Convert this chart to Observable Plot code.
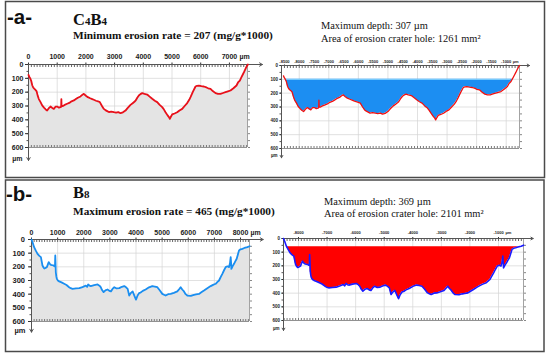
<!DOCTYPE html>
<html><head><meta charset="utf-8">
<script src="https://cdn.jsdelivr.net/npm/d3@7"></script>
<script src="https://cdn.jsdelivr.net/npm/@observablehq/plot@0.6"></script>
<style>
body{margin:0;background:#fff;}
#root{position:relative;width:550px;height:357px;overflow:hidden;}
</style></head><body><div id="root"></div>
<script>
// ---- Data ----
// Panel a (C4B4) profile: distance (µm) and depth (µm)
const topX = [0,25,46,70,94,130,163,200,250,279,320,360,420,476,540,600,650,700,767,820,883,940,999,1060,1138,1145,1152,1200,1260,1347,1420,1500,1580,1650,1720,1812,1870,1928,2000,2067,2150,2220,2276,2350,2420,2485,2560,2625,2680,2741,2800,2880,2973,3050,3130,3206,3290,3380,3450,3554,3640,3700,3728,3790,3844,3900,3961,4040,4135,4220,4310,4400,4484,4570,4658,4720,4774,4840,4900,4924,4960,5006,5090,5180,5260,5355,5440,5529,5600,5645,5730,5819,5870,5935,6020,6109,6200,6260,6341,6420,6516,6600,6690,6780,6864,6950,7038,7140,7247,7300,7364,7420,7480,7520,7561,7600,7643];
// same profile in the coordinates of the right-hand plot
const topXRight = [-8532,-8506,-8484,-8459,-8434,-8396,-8362,-8323,-8271,-8240,-8198,-8156,-8093,-8035,-7968,-7905,-7853,-7800,-7730,-7675,-7609,-7550,-7488,-7424,-7343,-7335,-7328,-7278,-7215,-7124,-7048,-6964,-6881,-6808,-6735,-6638,-6578,-6517,-6442,-6372,-6285,-6212,-6154,-6076,-6003,-5935,-5857,-5789,-5731,-5668,-5606,-5522,-5425,-5345,-5261,-5182,-5094,-5000,-4927,-4818,-4728,-4666,-4636,-4571,-4515,-4457,-4393,-4310,-4211,-4122,-4028,-3934,-3846,-3756,-3664,-3600,-3543,-3474,-3411,-3386,-3349,-3301,-3213,-3119,-3035,-2936,-2847,-2754,-2680,-2633,-2544,-2451,-2398,-2330,-2241,-2148,-2053,-1990,-1906,-1823,-1723,-1635,-1541,-1447,-1359,-1269,-1177,-1071,-959,-904,-837,-778,-715,-674,-631,-590,-545];
const topDepth = [75,88,95,105,118,150,166,175,185,192,225,250,272,296,312,325,333,318,304,312,321,305,304,312,306,250,300,300,292,284,278,266,260,250,240,231,220,212,226,236,244,250,255,262,266,272,300,321,330,337,344,340,345,348,344,352,346,333,315,292,278,268,262,240,224,214,207,212,217,232,248,262,272,292,308,326,345,366,382,393,378,361,354,345,332,321,300,279,255,236,196,159,154,152,157,159,166,172,176,192,207,212,212,206,200,194,188,172,152,130,116,92,67,50,31,14,0];

// Panel b (B8) profile
const botX = [0,40,100,160,230,300,360,390,420,460,490,540,590,630,660,700,740,790,840,880,900,905,910,918,930,950,970,1010,1060,1150,1250,1340,1440,1500,1570,1700,1830,1950,2080,2130,2170,2220,2270,2400,2530,2600,2650,2700,2760,2830,2910,2980,3040,3100,3170,3260,3360,3460,3550,3620,3680,3740,3800,3870,3940,4000,4060,4130,4176,4260,4368,4500,4625,4720,4816,4900,5007,5070,5134,5230,5326,5450,5581,5650,5709,5770,5836,5900,5964,6100,6219,6300,6411,6500,6603,6730,6858,6950,7050,7120,7178,7240,7305,7370,7433,7500,7560,7600,7624,7640,7650,7700,7752,7800,7854,7900,7943,8000,8071,8150,8263,8344];
const botXRight = [-8525,-8485,-8424,-8364,-8293,-8223,-8163,-8132,-8102,-8062,-8032,-7981,-7931,-7891,-7861,-7820,-7780,-7730,-7679,-7639,-7619,-7614,-7609,-7601,-7589,-7569,-7548,-7508,-7458,-7367,-7267,-7176,-7075,-7015,-6944,-6814,-6683,-6562,-6431,-6381,-6340,-6290,-6240,-6109,-5978,-5908,-5857,-5807,-5747,-5676,-5595,-5525,-5465,-5404,-5334,-5243,-5142,-5042,-4951,-4881,-4820,-4760,-4700,-4629,-4559,-4498,-4438,-4367,-4321,-4236,-4128,-3995,-3869,-3773,-3677,-3592,-3484,-3421,-3357,-3260,-3163,-3038,-2907,-2837,-2778,-2716,-2650,-2585,-2521,-2384,-2264,-2183,-2071,-1981,-1878,-1750,-1621,-1528,-1428,-1357,-1299,-1236,-1171,-1106,-1042,-975,-914,-874,-850,-834,-824,-773,-721,-673,-618,-572,-529,-471,-400,-320,-207,-125];
const botDepth = [0,20,56,80,105,120,129,160,190,205,212,208,202,180,166,178,185,188,190,196,195,150,117,160,239,270,288,300,307,314,324,333,349,356,361,358,356,348,337,346,329,338,341,334,329,338,349,370,385,372,366,376,380,362,349,358,356,346,341,350,361,410,392,380,412,440,410,390,388,376,366,350,341,344,349,370,398,404,410,400,398,390,380,364,349,366,380,400,410,412,405,402,398,386,373,356,341,332,324,310,300,275,251,225,202,196,202,170,129,170,215,195,178,160,141,110,80,72,68,62,56,49];

// Axis tick labels
const depthTicks = [0,100,200,300,400,500,600];
const tlTicks = [0,1000,2000,3000,4000,5000,6000,7000];
const trTicks = [-8500,-8000,-7500,-7000,-6500,-6000,-5500,-5000,-4500,-4000,-3500,-3000,-2500,-2000,-1500,-1000];
const trGrid = [-8000,-7000,-6000,-5000,-4000,-3000,-2000,-1000];
const blTicks = [0,1000,2000,3000,4000,5000,6000,7000,8000];
const brTicks = [-8000,-7000,-6000,-5000,-4000,-3000,-2000,-1000];

// Reference levels (crater rim) of the right-hand plots
const topRim = 100, botRim = 60;

// Texts
const texts = {
  a: "-a-", b: "-b-",
  aRate: "Minimum erosion rate = 207 (mg/g*1000)",
  bRate: "Maximum erosion rate = 465 (mg/g*1000)",
  aDepth: "Maximum depth: 307 \u00b5m", aArea: "Area of erosion crater hole: 1261 mm\u00b2",
  bDepth: "Maximum depth: 369 \u00b5m", bArea: "Area of erosion crater hole: 2101 mm\u00b2"
};

const root = document.getElementById("root");

// frame boxes + titles
const ov = d3.create("svg").attr("width",550).attr("height",357)
  .style("position","absolute").style("left","0px").style("top","0px");
ov.append("rect").attr("x",5.5).attr("y",1.5).attr("width",539).attr("height",176)
  .attr("fill","none").attr("stroke","#4a4a4a").attr("stroke-width",1.5);
ov.append("rect").attr("x",5.5).attr("y",180).attr("width",538.5).attr("height",171.5)
  .attr("fill","none").attr("stroke","#4a4a4a").attr("stroke-width",1.5);
function txt(x,y,s,size,weight,family){
  return ov.append("text").attr("x",x).attr("y",y).attr("font-size",size)
    .attr("font-weight",weight).attr("font-family",family).attr("fill","#111").text(s);
}
const SERIF = "'Liberation Serif','Times New Roman',serif";
const SANS = "'Liberation Sans',Arial,sans-serif";
txt(7,24,texts.a,20.5,"bold",SANS);
txt(6,201,texts.b,20.5,"bold",SANS);
// C4B4 and B8 with subscripts
const t1 = ov.append("text").attr("x",73).attr("y",25).attr("font-family",SERIF).attr("font-weight","bold").attr("font-size",16.5).attr("fill","#111");
t1.append("tspan").text("C"); t1.append("tspan").attr("font-size",11).text("4");
t1.append("tspan").text("B"); t1.append("tspan").attr("font-size",11).text("4");
const t2 = ov.append("text").attr("x",73).attr("y",198).attr("font-family",SERIF).attr("font-weight","bold").attr("font-size",16.5).attr("fill","#111");
t2.append("tspan").text("B"); t2.append("tspan").attr("font-size",11).text("8");
txt(73,39,texts.aRate,11.3,"bold",SERIF);
txt(73,214.5,texts.bRate,11.3,"bold",SERIF);
txt(321,29,texts.aDepth,10.4,"normal",SERIF);
txt(321,42.3,texts.aArea,10.4,"normal",SERIF);
txt(324,204.5,texts.bDepth,10.4,"normal",SERIF);
txt(324,216.5,texts.bArea,10.4,"normal",SERIF);
root.appendChild(ov.node());

const plain = d => String(d);

function panel(c){
  const rows = c.x.map((x,i)=>({x, d:c.depth[i]}));
  const [x0,x1] = c.domain;
  const lastTick = c.ticks[c.ticks.length-1];
  const marks = [
    Plot.gridX(c.grid, {stroke:"#d4d4d4", strokeOpacity:1, strokeWidth:0.7}),
    Plot.gridY(depthTicks, {stroke:"#d4d4d4", strokeOpacity:1, strokeWidth:0.7}),
  ];
  if (c.kind === "profile") {
    marks.push(Plot.areaY(rows, {x:"x", y1:"d", y2:600, fill:"#e4e4e4"}));
  } else {
    marks.push(Plot.areaY(rows, {x:"x", y1:c.rim, y2:d=>Math.max(d.d,c.rim), fill:c.fill}));
    if (c.rimStroke) {
      const wet = rows.filter(r=>r.d>=c.rim);
      marks.push(Plot.ruleY([c.rim], {x1:wet[0].x, x2:wet[wet.length-1].x, stroke:c.rimStroke, strokeWidth:1}));
    }
  }
  marks.push(
    Plot.ruleX([x1], {stroke:"#8c8c8c", strokeWidth:0.8}),
    Plot.ruleY([600], {stroke:"#7c7c7c", strokeWidth:0.8}),
    Plot.axisX({anchor:"top", ticks:c.minor, tickSize:-2, tickFormat:()=>"", stroke:"#666", label:null}),
    Plot.axisX({anchor:"bottom", ticks:c.minor, tickSize:-2, tickFormat:()=>"", stroke:"#777", label:null}),
    Plot.axisY({anchor:"left", ticks:12, tickSize:1.5, tickFormat:()=>"", stroke:"#555", label:null}),
    Plot.axisY({anchor:"right", ticks:12, tickSize:2, tickFormat:()=>"", stroke:"#888", label:null}),
    Plot.axisX({anchor:"top", ticks:c.ticks, tickFormat:plain, tickSize:c.tx, tickPadding:c.px, fontSize:c.xFont, fontWeight:"bold", fill:"#1a1a1a", stroke:"#333", label:null}),
    Plot.axisY({anchor:"left", ticks:depthTicks, tickFormat:plain, tickSize:c.ty, tickPadding:c.py, fontSize:c.yFont, fontWeight:"bold", fill:"#1a1a1a", stroke:"#333", label:null}),
    Plot.arrow([0], {x1:x0, y1:0, x2:c.arrowX, y2:0, stroke:"#555", strokeWidth:1, headLength:c.head}),
    Plot.arrow([0], {x1:x0, y1:0, x2:x0, y2:c.arrowY, stroke:"#555", strokeWidth:1, headLength:c.head}),
    Plot.line(rows, {x:"x", y:"d", stroke:c.stroke, strokeWidth:c.sw}),
    Plot.text(["\u00b5m"], {x:lastTick, y:0, text:d=>d, textAnchor:"start", lineAnchor:"bottom", dx:c.umDx, dy:-(c.tx+c.px), fontSize:c.xFont, fontWeight:"bold", fill:"#1a1a1a"}),
    Plot.text(["\u00b5m"], {x:x0, y:c.arrowY, text:d=>d, textAnchor:"end", lineAnchor:"middle", dx:c.umYdx, dy:-2, fontSize:c.yFont, fontWeight:"bold", fill:"#1a1a1a"})
  );
  const svg = Plot.plot({
    width:c.w, height:c.h,
    marginLeft:c.m[0], marginRight:c.m[1], marginTop:c.m[2], marginBottom:c.m[3],
    x:{domain:c.domain, axis:null},
    y:{domain:[0,600], reverse:true, axis:null},
    style:{background:"transparent", overflow:"visible", fontFamily:SANS, maxWidth:"none", color:"#1a1a1a"},
    marks
  });
  svg.style.position = "absolute";
  svg.style.left = c.left+"px";
  svg.style.top = c.top+"px";
  root.appendChild(svg);
}

panel({kind:"profile", x:topX, depth:topDepth, domain:[0,7630], ticks:tlTicks, grid:tlTicks, minor:76,
  left:0, top:40, w:275, h:130, m:[28,28,24,23], stroke:"#e8101a", sw:1.8,
  tx:2.5, px:3, ty:3, py:2, xFont:7, yFont:7, arrowX:8150, arrowY:694, head:5, umDx:10, umYdx:-6});
panel({kind:"crater", x:topXRight, depth:topDepth, domain:[-8600,-550], ticks:trTicks, grid:trGrid, minor:80,
  rim:topRim, fill:"#1c8ef2", rimStroke:"#8ad6ff",
  left:255, top:40, w:290, h:130, m:[26,26,25,22], stroke:"#f01010", sw:1.3,
  tx:1.5, px:1.5, ty:1.5, py:2, xFont:4, yFont:4.5, arrowX:-210, arrowY:667, head:4, umDx:6.5, umYdx:-4});
panel({kind:"profile", x:botX, depth:botDepth, domain:[0,8344], ticks:blTicks, grid:blTicks, minor:83,
  left:0, top:215, w:275, h:130, m:[31,26,24,24], stroke:"#1a8ef0", sw:1.8,
  tx:2.5, px:2.3, ty:3, py:3.5, xFont:7, yFont:7.5, arrowX:8868, arrowY:678, head:5, umDx:10, umYdx:-6});
panel({kind:"crater", x:botXRight, depth:botDepth, domain:[-8525,-125], ticks:brTicks, grid:brTicks, minor:84,
  rim:botRim, fill:"#ff0000",
  left:255, top:215, w:290, h:130, m:[28,22,23,25], stroke:"#1a1aff", sw:1.6,
  tx:2, px:2.8, ty:1.5, py:2, xFont:4, yFont:4.5, arrowX:215, arrowY:673, head:4, umDx:7, umYdx:-4});
</script>
</body></html>
